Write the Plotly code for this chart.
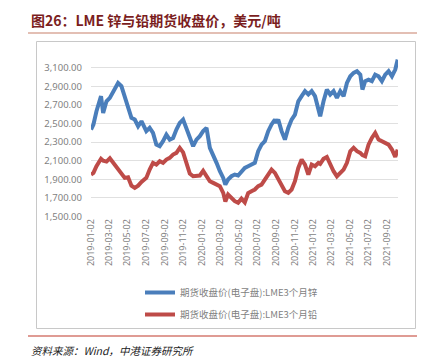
import plotly.graph_objects as go

dates = [
    "2019-01-02", "2019-01-10", "2019-01-20", "2019-02-04", "2019-02-11", "2019-02-22",
    "2019-03-05", "2019-03-16", "2019-04-01", "2019-04-12", "2019-04-23", "2019-05-04",
    "2019-05-15", "2019-05-26", "2019-06-06", "2019-06-17", "2019-07-03", "2019-07-14",
    "2019-07-25", "2019-08-05", "2019-08-16", "2019-08-27", "2019-09-07", "2019-09-18",
    "2019-09-29", "2019-10-10", "2019-10-21", "2019-11-01", "2019-11-12", "2019-11-23",
    "2019-12-04", "2019-12-15", "2019-12-26", "2020-01-06", "2020-01-17", "2020-01-28",
    "2020-02-08", "2020-02-19", "2020-03-01", "2020-03-12", "2020-03-19", "2020-03-28",
    "2020-04-08", "2020-04-19", "2020-04-30", "2020-05-11", "2020-05-22", "2020-06-02",
    "2020-06-13", "2020-06-24", "2020-07-05", "2020-07-16", "2020-07-27", "2020-08-07",
    "2020-08-18", "2020-08-29", "2020-09-03", "2020-09-09", "2020-09-20", "2020-10-01",
    "2020-10-12", "2020-10-23", "2020-11-03", "2020-11-14", "2020-11-25", "2020-12-06",
    "2020-12-17", "2020-12-28", "2021-01-08", "2021-01-19", "2021-01-25", "2021-02-05",
    "2021-02-16", "2021-02-27", "2021-03-10", "2021-03-21", "2021-04-01", "2021-04-12",
    "2021-04-23", "2021-05-04", "2021-05-15", "2021-05-26", "2021-06-06", "2021-06-13",
    "2021-06-22", "2021-07-03", "2021-07-14", "2021-07-25", "2021-08-05", "2021-08-16",
    "2021-08-27", "2021-09-07", "2021-09-18", "2021-09-29", "2021-10-07",
]

zinc = [
    2435, 2490, 2633, 2795, 2615, 2740,
    2777, 2849, 2938, 2903, 2777, 2669,
    2561, 2543, 2471, 2525, 2418, 2453,
    2399, 2273, 2256, 2310, 2381, 2327,
    2345, 2435, 2507, 2543, 2453, 2345,
    2256, 2327, 2364, 2418, 2453, 2238,
    2166, 2076, 1986, 1914, 1842, 1896,
    1932, 1950, 1940, 1986, 2022, 2040,
    2058, 2076, 2202, 2273, 2310, 2418,
    2490, 2543, 2507, 2543, 2418, 2327,
    2453, 2543, 2597, 2740, 2795, 2849,
    2813, 2849, 2795, 2633, 2579, 2740,
    2867, 2813, 2849, 2777, 2849, 2795,
    2938, 3010, 3046, 3064, 3028, 2867,
    2957, 2974, 2957, 3028, 3010, 2957,
    3028, 3064, 3010, 3082, 3190,
]

lead = [
    1950, 1968, 2040, 2120, 2100, 2090,
    2125, 2080, 2004, 1968, 1914, 1920,
    1830, 1806, 1830, 1870, 1914, 2004,
    2076, 2058, 2094, 2076, 2112, 2130,
    2166, 2184, 2238, 2190, 2060, 1960,
    1932, 1940, 1940, 1990, 1932, 1878,
    1860, 1842, 1825, 1753, 1660, 1735,
    1699, 1663, 1645, 1690, 1650, 1750,
    1771, 1789, 1825, 1842, 1896, 1950,
    2004, 1968, 1940, 1896, 1842, 1771,
    1753, 1789, 1878, 2022, 2112, 2058,
    1950, 2058, 2040, 2076, 2065, 2120,
    2140, 2050, 1986, 1932, 1968, 2004,
    2076, 2202, 2238, 2202, 2184, 2160,
    2148, 2273, 2345, 2399, 2327, 2310,
    2292, 2273, 2220, 2140, 2220,
]

tick_dates = [
    "2019-01-02", "2019-03-02", "2019-05-02", "2019-07-02", "2019-09-02", "2019-11-02",
    "2020-01-02", "2020-03-02", "2020-05-02", "2020-07-02", "2020-09-02", "2020-11-02",
    "2021-01-02", "2021-03-02", "2021-05-02", "2021-07-02", "2021-09-02",
]
y_ticks = [1500, 1700, 1900, 2100, 2300, 2500, 2700, 2900, 3100]
y_labels = [f"{v:,.2f}" for v in y_ticks]

series_names = ["期货收盘价(电子盘):LME3个月锌", "期货收盘价(电子盘):LME3个月铅"]
colors = ["#4A7EBB", "#BE4B48"]

W, H = 425, 360

def fx(x):
    return x / W

def fy(y):
    return 1 - y / H

fig = go.Figure()
for name, vals, col, grp in zip(series_names, [zinc, lead], colors, ["a", "b"]):
    fig.add_trace(go.Scatter(
        x=dates, y=vals, mode="lines", name=name, legendgroup=grp,
        line=dict(color=col, width=4), cliponaxis=False,
    ))

# chart frame as four edges
fx0, fx1, fy0, fy1 = fx(28.5), fx(407.5), fy(320.5), fy(33.5)
for a, b, c, d in [(fx0, fx1, fy1, fy1), (fx0, fx1, fy0, fy0),
                   (fx0, fx0, fy0, fy1), (fx1, fx1, fy0, fy1)]:
    fig.add_shape(type="line", xref="paper", yref="paper", x0=a, x1=b, y0=c, y1=d,
                  line=dict(color="#C8C8C8", width=1))
fig.add_shape(type="line", xref="paper", yref="paper",
              x0=fx(20), x1=fx(415), y0=fy(25), y1=fy(25),
              line=dict(color="#C8806A", width=1.2))
fig.add_shape(type="line", xref="paper", yref="paper",
              x0=fx(20), x1=fx(415), y0=fy(328), y1=fy(328),
              line=dict(color="#C0392B", width=1.2))

fig.add_annotation(text="<b>图26：LME 锌与铅期货收盘价，美元/吨</b>", xref="paper", yref="paper",
                   x=fx(21), y=fy(12), xanchor="left", yanchor="middle", showarrow=False,
                   font=dict(family="Noto Sans CJK SC", size=14, color="#7B1E1E"))
fig.add_annotation(text="<i>资料来源：Wind，中港证券研究所</i>", xref="paper", yref="paper",
                   x=fx(21), y=fy(342), xanchor="left", yanchor="middle", showarrow=False,
                   font=dict(family="Noto Sans CJK SC", size=10.5, color="#222222"))

fig.update_layout(
    width=W, height=H,
    margin=dict(l=0, r=0, t=0, b=0, autoexpand=False),
    paper_bgcolor="white", plot_bgcolor="white",
    showlegend=True,
    legend=dict(x=fx(132), y=fy(270), xanchor="left", yanchor="top",
                font=dict(family="Noto Sans CJK SC", size=9.5, color="#7F7F7F"),
                traceorder="grouped", tracegroupgap=3, itemwidth=30,
                bgcolor="rgba(0,0,0,0)"),
    xaxis=dict(type="date", range=["2019-01-02", "2021-10-08"], domain=[fx(83), fx(390)],
               tickvals=tick_dates, ticktext=tick_dates, tickangle=-90, automargin=False,
               showgrid=False, showline=False, zeroline=False, ticks="",
               tickfont=dict(family="Noto Sans", size=9, color="#7F7F7F")),
    yaxis=dict(range=[1500, 3250], domain=[fy(208.3), fy(46)], tickvals=y_ticks, ticktext=y_labels,
               showgrid=True, gridcolor="#E0E0E0", gridwidth=1, zeroline=False, automargin=False,
               showline=False, ticks="", ticklabelstandoff=8,
               tickfont=dict(family="Noto Sans", size=9.5, color="#7F7F7F")),
)

fig.write_html("out.html")
